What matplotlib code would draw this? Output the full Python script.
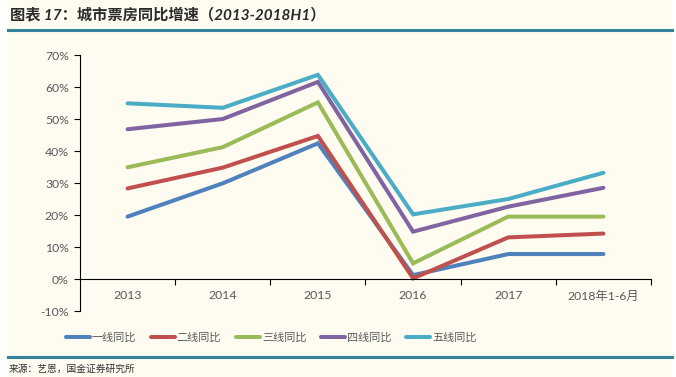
import matplotlib
matplotlib.use("Agg")
import matplotlib.pyplot as plt
from matplotlib.lines import Line2D
from matplotlib.patches import Rectangle

plt.rcParams['font.family'] = ['Lato', 'Noto Sans CJK SC', 'DejaVu Sans']

# data
categories = ["2013", "2014", "2015", "2016", "2017", "2018年1-6月"]
tier1 = [19.5, 29.9, 42.4, 1.2, 7.8, 7.8]
tier2 = [28.3, 34.8, 44.7, 0.2, 13.0, 14.2]
tier3 = [34.9, 41.2, 55.2, 4.9, 19.5, 19.5]
tier4 = [46.8, 50.0, 61.6, 14.8, 22.6, 28.5]
tier5 = [54.9, 53.5, 63.8, 20.2, 25.0, 33.2]
series_names = ["一线同比", "二线同比", "三线同比", "四线同比", "五线同比"]
colors = ["#4F81BD", "#C0504D", "#9BBB59", "#8064A2", "#4BACC6"]
y_ticks = [-10, 0, 10, 20, 30, 40, 50, 60, 70]

cream = "#FEFBF1"
grey = "#595959"

W, H = 676, 377
fig = plt.figure(figsize=(W / 100, H / 100), dpi=100)
fig.patch.set_facecolor("white")
# cream panel behind everything
fig.patches.append(Rectangle((8 / W, 0), (672 - 8) / W, 1, transform=fig.transFigure,
                             facecolor=cream, edgecolor="none", zorder=-5))

ax = fig.add_axes([80 / W, (H - 311) / H, (651 - 80) / W, (311 - 55) / H])
ax.set_facecolor("none")
ax.set_zorder(2)

x = list(range(len(categories)))
for vals, name, c in zip([tier1, tier2, tier3, tier4, tier5], series_names, colors):
    ax.plot(x, vals, color=c, lw=2.9, label=name, solid_capstyle="round", solid_joinstyle="miter")

ax.set_xlim(-0.5, len(categories) - 0.5)
ax.set_ylim(-10, 70)
ax.set_yticks(y_ticks)
ax.set_yticklabels([f"{v}%" for v in y_ticks], fontsize=8.8, color=grey)
ax.tick_params(axis="y", direction="out", length=4, width=0.8, pad=4, color="black")

# x axis sits at 0%, ticks between categories
ax.spines["bottom"].set_position(("data", 0))
ax.spines["top"].set_visible(False)
ax.spines["right"].set_visible(False)
ax.spines["left"].set_linewidth(0.8)
ax.spines["bottom"].set_linewidth(0.8)
ax.set_xticks([i + 0.5 for i in range(len(categories))])
ax.set_xticklabels([])
ax.tick_params(axis="x", direction="out", length=4, width=0.8, color="black")
for i, lab in enumerate(categories):
    ax.text(i, -5.3, lab, ha="center", va="center", fontsize=8.8, color=grey)

handles = [Line2D([], [], color=c, lw=2.9, solid_capstyle="round") for c in colors]
fig.legend(handles, series_names, loc="center", bbox_to_anchor=(271 / W, 1 - 337 / H),
           ncol=5, frameon=False, fontsize=8, labelcolor=grey, handlelength=2.2,
           handletextpad=0.15, columnspacing=1.3)

# title, rules and source
fig.text(10 / W, 1 - 15 / H, "图表 17：城市票房同比增速（2013-2018H1）", ha="left", va="center",
         fontsize=11, fontweight="bold", style="italic", color="#2b2b2b")
fig.add_artist(Line2D([8 / W, 672 / W], [1 - 30 / H] * 2, color="#31849B", lw=2.2))
fig.add_artist(Line2D([8 / W, 672 / W], [1 - 357 / H] * 2, color="#31849B", lw=2.2))
fig.text(9 / W, 1 - 369 / H, "来源：艺恩，国金证券研究所", ha="left", va="center",
         fontsize=7, color="#303030")

fig.savefig("out.png", dpi=100, facecolor=fig.get_facecolor())
